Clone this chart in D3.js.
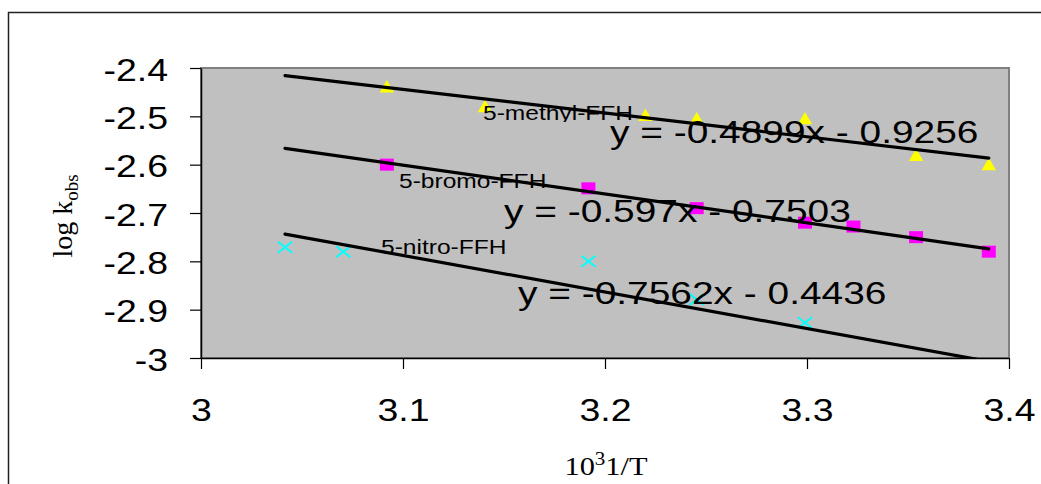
<!DOCTYPE html>
<html>
<head>
<meta charset="utf-8">
<script src="https://cdn.jsdelivr.net/npm/d3@7"></script>
<style>
  body { margin: 0; background: #fff; }
  svg { display: block; }
</style>
</head>
<body>
<svg id="chart"></svg>
<script>
// data
var methylX = [3.092, 3.1406, 3.220, 3.2454, 3.299, 3.354, 3.390];
var methylY = [-2.442, -2.483, -2.501, -2.508, -2.508, -2.584, -2.603];
var bromoX = [3.092, 3.1918, 3.2454, 3.299, 3.323, 3.354, 3.390];
var bromoY = [-2.600, -2.649, -2.690, -2.720, -2.728, -2.750, -2.780];
var nitroX = [3.0416, 3.0705, 3.1918, 3.2454, 3.299];
var nitroY = [-2.771, -2.780, -2.800, -2.879, -2.927];

var seriesNames = ['5-methyl-FFH', '5-bromo-FFH', '5-nitro-FFH'];
var slopes = [-0.4899, -0.597, -0.7562];
var intercepts = [-0.9256, -0.7503, -0.4436];
var equations = ['y = -0.4899x - 0.9256', 'y = -0.597x - 0.7503', 'y = -0.7562x - 0.4436'];
var trendRange = [3.0416, 3.39];

var xTicks = [3, 3.1, 3.2, 3.3, 3.4];
var yTicks = [-2.4, -2.5, -2.6, -2.7, -2.8, -2.9, -3];

var width = 1041, height = 484;
var stretch = 1.17; // the picture is a bit wider than tall

var svg = d3.select('#chart').attr('width', width).attr('height', height);

// outer chart frame
svg.append('rect')
  .attr('x', 8.5).attr('y', 12.5)
  .attr('width', 1040).attr('height', 480)
  .attr('fill', 'none').attr('stroke', '#222').attr('stroke-width', 1.5);

var x = d3.scaleLinear().domain([3, 3.4]).range([201, 1009]);
var y = d3.scaleLinear().domain([-3, -2.4]).range([358, 68]);

// plot area
svg.append('rect')
  .attr('x', x(3)).attr('y', y(-2.4))
  .attr('width', x(3.4) - x(3)).attr('height', y(-3) - y(-2.4))
  .attr('fill', '#c0c0c0').attr('stroke', '#808080').attr('stroke-width', 2);

svg.append('clipPath').attr('id', 'plotClip')
  .append('rect')
  .attr('x', x(3)).attr('y', y(-2.4))
  .attr('width', x(3.4) - x(3)).attr('height', y(-3) - y(-2.4));

// axes
var yAxis = svg.append('g')
  .attr('transform', 'translate(' + x(3) + ',0)')
  .call(d3.axisLeft(y).tickValues(yTicks).tickSize(11).tickSizeOuter(0).tickFormat(function(d) { return String(d); }));
var xAxis = svg.append('g')
  .attr('transform', 'translate(0,' + y(-3) + ')')
  .call(d3.axisBottom(x).tickValues(xTicks).tickSize(11).tickSizeOuter(0).tickFormat(function(d) { return String(d); }));

[yAxis, xAxis].forEach(function(ax) {
  ax.select('.domain').attr('stroke', '#000').attr('stroke-width', 1.5);
  ax.selectAll('.tick line').attr('stroke', '#000').attr('stroke-width', 1.2);
  ax.selectAll('.tick text')
    .attr('font-family', 'Liberation Sans, Arial, sans-serif')
    .attr('font-size', 32).attr('fill', '#000');
});
yAxis.selectAll('.tick text')
  .attr('x', 0).attr('dy', 0)
  .attr('transform', 'translate(-33,12) scale(' + stretch + ',1)');
xAxis.selectAll('.tick text')
  .attr('y', 0).attr('dy', 0)
  .attr('transform', 'translate(0,63) scale(' + stretch + ',1)');

// axis titles
var yTitle = svg.append('text')
  .attr('transform', 'translate(72,216) rotate(-90)')
  .attr('text-anchor', 'middle')
  .attr('font-family', 'Liberation Serif, Times New Roman, serif')
  .attr('font-size', 28);
yTitle.append('tspan').text('log k');
yTitle.append('tspan').attr('font-size', 19).attr('dy', 6).text('obs');

var xTitle = svg.append('text')
  .attr('transform', 'translate(606,475) scale(' + stretch + ',1)')
  .attr('text-anchor', 'middle')
  .attr('font-family', 'Liberation Serif, Times New Roman, serif')
  .attr('font-size', 26);
xTitle.append('tspan').text('10');
xTitle.append('tspan').attr('font-size', 18).attr('dy', -10).text('3');
xTitle.append('tspan').attr('dy', 10).text('1/T');

// markers
var plot = svg.append('g').attr('clip-path', 'url(#plotClip)');

plot.selectAll('path.methyl')
  .data(d3.zip(methylX, methylY))
  .enter().append('path')
  .attr('class', 'methyl')
  .attr('d', d3.symbol().type(d3.symbolTriangle).size(90))
  .attr('transform', function(d) { return 'translate(' + x(d[0]) + ',' + y(d[1]) + ')'; })
  .attr('fill', '#ffff00');

plot.selectAll('rect.bromo')
  .data(d3.zip(bromoX, bromoY))
  .enter().append('rect')
  .attr('class', 'bromo')
  .attr('x', function(d) { return x(d[0]) - 7; })
  .attr('y', function(d) { return y(d[1]) - 6; })
  .attr('width', 14).attr('height', 12)
  .attr('fill', '#ff00ff');

plot.selectAll('path.nitro')
  .data(d3.zip(nitroX, nitroY))
  .enter().append('path')
  .attr('class', 'nitro')
  .attr('d', 'M-7,-5.5L7,5.5M-7,5.5L7,-5.5')
  .attr('transform', function(d) { return 'translate(' + x(d[0]) + ',' + y(d[1]) + ')'; })
  .attr('stroke', '#00ffff').attr('stroke-width', 2).attr('fill', 'none');

// series labels (bottom of text clipped like the source)
var labelPos = [[483, 120], [399, 188], [381, 254]];
seriesNames.forEach(function(name, i) {
  var cid = 'lab' + i;
  svg.append('clipPath').attr('id', cid)
    .append('rect')
    .attr('x', labelPos[i][0] - 5).attr('y', labelPos[i][1] - 30)
    .attr('width', 200).attr('height', 32);
  svg.append('g').attr('clip-path', 'url(#' + cid + ')')
    .append('text')
    .attr('transform', 'translate(' + labelPos[i][0] + ',' + labelPos[i][1] + ') scale(' + stretch + ',1)')
    .attr('font-family', 'Liberation Sans, Arial, sans-serif')
    .attr('font-size', 21)
    .text(name);
});

// trendline equations
var eqPos = [[610, 143], [504, 222], [518, 304]];
equations.forEach(function(eq, i) {
  svg.append('text')
    .attr('transform', 'translate(' + eqPos[i][0] + ',' + eqPos[i][1] + ') scale(1.215,1)')
    .attr('font-family', 'Liberation Sans, Arial, sans-serif')
    .attr('font-size', 32)
    .text(eq);
});

// trendlines
var line = d3.line().x(function(d) { return x(d[0]); }).y(function(d) { return y(d[1]); });
slopes.forEach(function(m, i) {
  var pts = trendRange.map(function(v) { return [v, m * v + intercepts[i]]; });
  plot.append('path')
    .attr('d', line(pts))
    .attr('stroke', '#000').attr('stroke-width', 3.2)
    .attr('stroke-linecap', 'round')
    .attr('fill', 'none');
});
</script>
</body>
</html>
